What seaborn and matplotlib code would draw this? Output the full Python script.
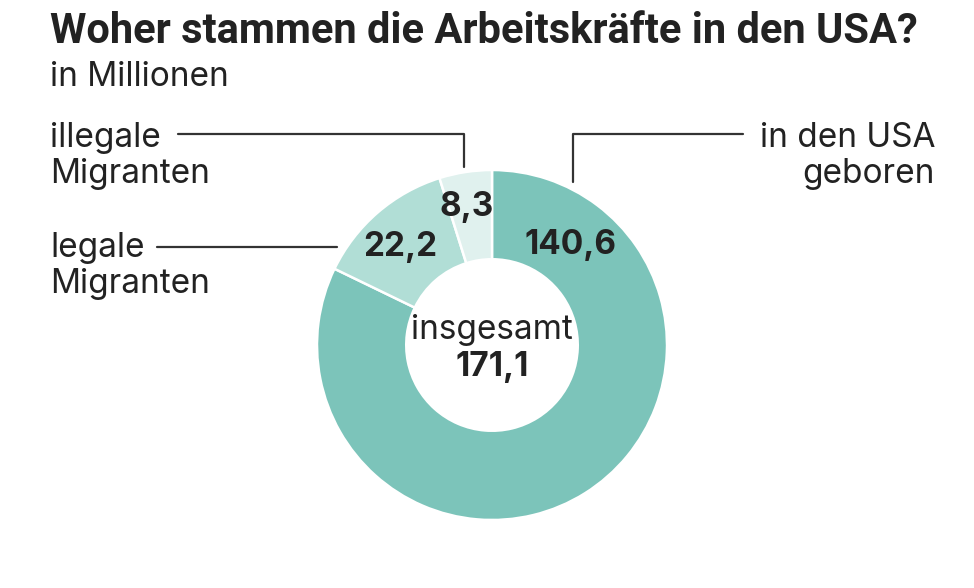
import matplotlib
matplotlib.use("Agg")
import matplotlib.pyplot as plt
import seaborn as sns

# data
categories = ["in den USA\ngeboren", "legale\nMigranten", "illegale\nMigranten"]
values = [140.6, 22.2, 8.3]
value_labels = ["140,6", "22,2", "8,3"]
total_label = "171,1"
colors = ["#7cc4ba", "#b1ded6", "#e0f1ee"]

sns.set_theme(style="white")
plt.rcParams["font.family"] = ["Inter", "DejaVu Sans"]

W, H = 974, 588
fig = plt.figure(figsize=(W / 100, H / 100), dpi=100)
ax = fig.add_axes([0, 0, 1, 1])

def py(y):
    # pixel y (top-down) -> data y
    return H - y

txt = "#222222"
cx, cy, r = 492, 345, 175

ax.pie(values, colors=colors, startangle=90, counterclock=False,
       center=(cx, py(cy)), radius=r, frame=True,
       wedgeprops=dict(width=r * 0.51, edgecolor="white", linewidth=1.8))
ax.set_xlim(0, W)
ax.set_ylim(0, H)
ax.set_aspect("equal")
ax.axis("off")

# title
fig.text(50 / W, 1 - 43 / H, "Woher stammen die Arbeitskräfte in den USA?",
         family=["Roboto", "DejaVu Sans"],
         fontweight="bold", fontsize=30, color=txt, va="baseline")
fig.text(50 / W, 1 - 86 / H, "in Millionen", fontsize=24, color=txt, va="baseline")

# values on slices
vl = dict(fontsize=24, fontweight="bold", color=txt, ha="center", va="center")
ax.text(570, py(245), value_labels[0], **vl)
ax.text(400, py(247), value_labels[1], **vl)
ax.text(467, py(207), value_labels[2], **vl)

ax.text(cx, py(330), "insgesamt", fontsize=24, color=txt, ha="center", va="center")
ax.text(cx, py(367), total_label, **vl)

# category labels (one text per line) and leader lines
lab = dict(fontsize=24, color=txt, va="baseline")
step = 36
for i, line in enumerate(categories[2].split("\n")):
    ax.text(50, py(147 + i * step), line, **lab)
for i, line in enumerate(categories[1].split("\n")):
    ax.text(50, py(257 + i * step), line, **lab)
for i, line in enumerate(categories[0].split("\n")):
    ax.text(935, py(147 + i * step), line, ha="right", **lab)

lc = dict(color="#333333", linewidth=1.6)
ax.plot([178, 464, 464], [py(134), py(134), py(167)], **lc)
ax.plot([157, 337], [py(247), py(247)], **lc)
ax.plot([573, 573, 743], [py(182), py(134), py(134)], **lc)

fig.savefig("out.png", dpi=100, facecolor="white")
